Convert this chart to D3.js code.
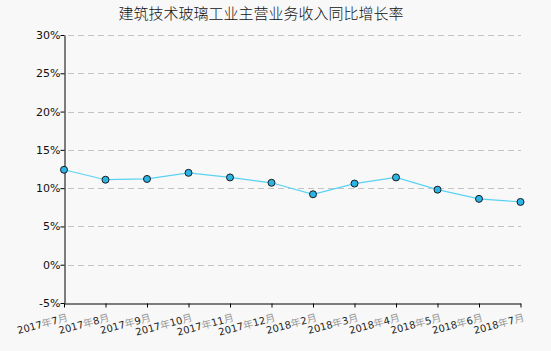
<!DOCTYPE html>
<html>
<head>
<meta charset="utf-8">
<script src="https://cdn.jsdelivr.net/npm/d3@7"></script>
<style>
  body { margin: 0; background: #f8f8f8; }
  svg { display: block; }
</style>
</head>
<body>
<svg id="chart" width="551" height="351"></svg>
<script>
const months = ["2017年7月", "2017年8月", "2017年9月", "2017年10月", "2017年11月", "2017年12月",
  "2018年2月", "2018年3月", "2018年4月", "2018年5月", "2018年6月", "2018年7月"];
const growth = [12.4, 11.1, 11.2, 12.0, 11.4, 10.7, 9.2, 10.6, 11.4, 9.8, 8.6, 8.2];
const yTicks = [-5, 0, 5, 10, 15, 20, 25, 30];

const margin = { top: 35, right: 30, bottom: 48, left: 64 },
    width = 551 - margin.left - margin.right,
    height = 351 - margin.top - margin.bottom;

const svg = d3.select("#chart");

svg.append("rect")
    .attr("width", 551).attr("height", 351)
    .attr("fill", "#f8f8f8");

svg.append("text")
    .attr("x", 261)
    .attr("y", 19)
    .attr("text-anchor", "middle")
    .attr("font-family", "'Noto Sans CJK SC', sans-serif")
    .attr("font-size", "15px")
    .attr("font-weight", 300)
    .attr("fill", "#111")
    .text("建筑技术玻璃工业主营业务收入同比增长率");

const g = svg.append("g")
    .attr("transform", `translate(${margin.left},${margin.top})`);

const x = d3.scalePoint()
    .domain(months)
    .range([0, width - 0.5]);

const y = d3.scaleLinear()
    .domain([-5, 30])
    .range([height, 0]);

// dashed grid lines
g.append("g")
    .selectAll("line")
    .data(yTicks.filter(t => t !== -5))
    .enter()
    .append("line")
    .attr("x1", 4)
    .attr("x2", width)
    .attr("y1", t => Math.round(y(t)) + 0.5)
    .attr("y2", t => Math.round(y(t)) + 0.5)
    .attr("stroke", "#c4c4c4")
    .attr("stroke-dasharray", "6,4");

// y axis
const yAxis = g.append("g")
    .attr("transform", "translate(0.5,0)")
    .call(d3.axisLeft(y).tickValues(yTicks).tickSize(4).tickSizeOuter(0).tickFormat(t => t + "%"));
yAxis.select(".domain").attr("stroke", "#000");
yAxis.selectAll("text")
    .attr("font-family", "'DejaVu Sans', sans-serif")
    .attr("font-size", "11px")
    .attr("fill", "#111")
    .attr("x", -4);

// x axis
const xAxis = g.append("g")
    .attr("transform", `translate(0,${height + 0.5})`)
    .call(d3.axisBottom(x).tickSize(4).tickSizeOuter(0).tickFormat(""));
xAxis.select(".domain").attr("stroke", "#000");

// rotated month labels, digits dark and CJK lighter
const lbl = g.append("g")
    .selectAll("text")
    .data(months)
    .enter()
    .append("text")
    .attr("transform", d => `translate(${x(d) + 2},${height + 9}) rotate(-15)`)
    .attr("text-anchor", "end")
    .attr("dy", "0.9em")
    .attr("font-family", "'DejaVu Sans', sans-serif")
    .attr("font-size", "10px");

lbl.each(function(d) {
    const parts = d.match(/(\d+)(年)(\d+)(月)/).slice(1);
    const t = d3.select(this);
    parts.forEach((p, i) => {
        t.append("tspan")
            .attr("fill", i % 2 === 0 ? "#222" : "#999")
            .attr("font-family", i % 2 === 0 ? "'DejaVu Sans', sans-serif" : "'Noto Sans CJK SC', sans-serif")
            .text(p);
    });
});

// line
const line = d3.line()
    .x((d, i) => x(months[i]))
    .y(d => y(d));

g.append("path")
    .datum(growth)
    .attr("fill", "none")
    .attr("stroke", "#5ad2f4")
    .attr("stroke-width", 1.2)
    .attr("d", line);

g.selectAll(".dot")
    .data(growth)
    .enter()
    .append("circle")
    .attr("class", "dot")
    .attr("cx", (d, i) => x(months[i]))
    .attr("cy", d => y(d))
    .attr("r", 3.5)
    .attr("fill", "#2bb5e6")
    .attr("stroke", "#1a1a1a")
    .attr("stroke-width", 1);
</script>
</body>
</html>
